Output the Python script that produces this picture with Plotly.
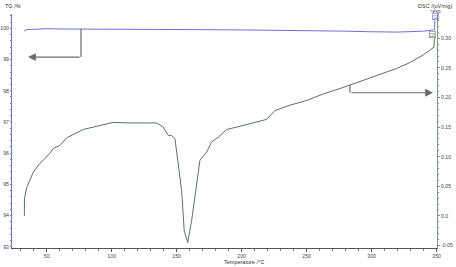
import plotly.graph_objects as go

# Temperature (°C) and TG (%) values
tg_temp = [32.6, 34.5, 40, 50, 60, 76, 100, 130, 160, 200, 230, 260, 280, 300, 320, 340, 348.5, 348.6]
tg_val = [99.91, 99.96, 99.97, 99.99, 99.98, 99.98, 99.97, 99.97, 99.96, 99.95, 99.94, 99.93, 99.91, 99.89, 99.88, 99.91, 99.955, 100.27]

# DSC (uV/mg) values
dsc_temp = [32.8, 32.9, 34.6, 38.5, 39.7, 44.8, 47.4, 52.5, 55.1, 60.2, 65.4, 78.2, 88.5, 101.2,
            114.1, 121.8, 129.5, 134.6, 139.7, 143.5, 146.2, 148.7, 151.2, 153.8, 155.8, 158.5,
            161.5, 164.8, 167.9, 173.1, 176.9, 182.0, 188.5, 196.2, 205.1, 208.9, 219.2, 225.6,
            237.2, 250.0, 262.8, 275.6, 288.5, 301.2, 308.9, 319.2, 329.5, 339.7, 348.0, 348.3]
dsc_val = [0.000, 0.029, 0.048, 0.068, 0.074, 0.089, 0.094, 0.106, 0.114, 0.119, 0.132, 0.146, 0.151, 0.158,
           0.157, 0.157, 0.158, 0.157, 0.150, 0.136, 0.136, 0.130, 0.088, 0.043, -0.025, -0.045,
           -0.008, 0.048, 0.094, 0.108, 0.125, 0.133, 0.146, 0.150, 0.155, 0.157, 0.163, 0.178,
           0.187, 0.195, 0.206, 0.215, 0.225, 0.234, 0.240, 0.249, 0.259, 0.272, 0.285, 0.300]

x_ticks = [50, 100, 150, 200, 250, 300, 350]
tg_ticks = [93, 94, 95, 96, 97, 98, 99, 100]
dsc_ticks = [-0.05, 0.0, 0.05, 0.10, 0.15, 0.20, 0.25, 0.30]
dsc_tick_text = ["-0.05", "0.0", "0.05", "0.10", "0.15", "0.20", "0.25", "0.30"]

FONT = "Liberation Sans"
TG_COL = "#7070d8"
DSC_COL = "#5a735e"
AX2_COL = "#7a9a86"
TICKFONT = dict(size=5.2, color="#444")

fig = go.Figure()
fig.add_trace(go.Scatter(x=tg_temp, y=tg_val, mode="lines",
                         line=dict(color=TG_COL, width=1), yaxis="y", showlegend=False))
fig.add_trace(go.Scatter(x=dsc_temp, y=dsc_val, mode="lines",
                         line=dict(color=DSC_COL, width=1), yaxis="y2", showlegend=False))

fig.update_layout(
    width=456, height=267,
    margin=dict(l=12, r=19, t=14, b=19),
    paper_bgcolor="white", plot_bgcolor="white",
    font=dict(family=FONT, size=6, color="#333"),
    xaxis=dict(range=[23.3, 350.3], tickvals=x_ticks, ticks="outside", ticklen=3, automargin=False,
               showline=True, linecolor="#555", linewidth=1, showgrid=False, zeroline=False,
               tickcolor="#555", tickfont=TICKFONT,
               minor=dict(dtick=10, ticks="outside", ticklen=2, tickcolor="#777")),
    yaxis=dict(range=[92.96, 100.46], tickvals=tg_ticks, ticks="outside", ticklen=1, automargin=False,
               showline=True, linecolor=TG_COL, linewidth=1, showgrid=False, zeroline=False,
               tickcolor=TG_COL, tickfont=TICKFONT,
               minor=dict(dtick=0.2, ticks="outside", ticklen=1, tickcolor=TG_COL)),
    yaxis2=dict(range=[-0.0542, 0.341], overlaying="y", side="right", tickvals=dsc_ticks,
                ticktext=dsc_tick_text, ticks="outside", ticklen=2, automargin=False,
                showline=True, linecolor=AX2_COL, linewidth=1, showgrid=False, zeroline=False,
                tickcolor=AX2_COL, tickfont=TICKFONT,
                minor=dict(dtick=0.01, ticks="outside", ticklen=1, tickcolor=AX2_COL)),
)

# Arrows (TG -> left axis, DSC -> right axis)
ARROW = "#6a6a6a"
fig.add_shape(type="line", xref="x", yref="y", x0=76.4, x1=76.4, y0=99.98, y1=99.08,
              line=dict(color=ARROW, width=1.2))
fig.add_annotation(xref="x", yref="y", x=35.6, y=99.08, axref="x", ayref="y", ax=76.4, ay=99.08,
                   text="", showarrow=True, arrowhead=2, arrowsize=1.3, arrowwidth=1.2,
                   arrowcolor=ARROW)
fig.add_shape(type="line", xref="x", yref="y2", x0=283.3, x1=283.3, y0=0.221, y1=0.208,
              line=dict(color=ARROW, width=1.2))
fig.add_annotation(xref="x", yref="y2", x=347.2, y=0.208, axref="x", ayref="y2", ax=283.3, ay=0.208,
                   text="", showarrow=True, arrowhead=2, arrowsize=1.3, arrowwidth=1.2,
                   arrowcolor=ARROW)

# Header / axis labels
fig.add_annotation(xref="paper", yref="paper", x=-0.022, y=1.036, xanchor="left", yanchor="middle",
                   text="TG /%", showarrow=False, font=dict(size=5.5, color="#333"))
fig.add_annotation(xref="paper", yref="paper", x=1.04, y=1.036, xanchor="right", yanchor="middle",
                   text="DSC /(uV/mg)", showarrow=False, font=dict(size=5.5, color="#333"))
fig.add_annotation(xref="paper", yref="paper", x=0.997, y=1.012, xanchor="center", yanchor="middle",
                   text="↑exo", showarrow=False, font=dict(size=5, color="#333"))
fig.add_annotation(xref="paper", yref="paper", x=0.545, y=-0.06, xanchor="center", yanchor="middle",
                   text="Temperature /°C", showarrow=False, font=dict(size=5.5, color="#333"))
fig.add_annotation(xref="x", yref="y", x=349.0, y=100.37, xanchor="center", yanchor="middle",
                   text="[2]", showarrow=False, font=dict(size=5.2, color=TG_COL),
                   bordercolor=TG_COL, borderwidth=0.5, borderpad=0)
fig.add_annotation(xref="x", yref="y2", x=347.0, y=0.300, xanchor="center", yanchor="bottom",
                   text="[2]", showarrow=False, font=dict(size=5.2, color=DSC_COL),
                   bordercolor=DSC_COL, borderwidth=0.5, borderpad=0)

fig.write_html("out.html")
